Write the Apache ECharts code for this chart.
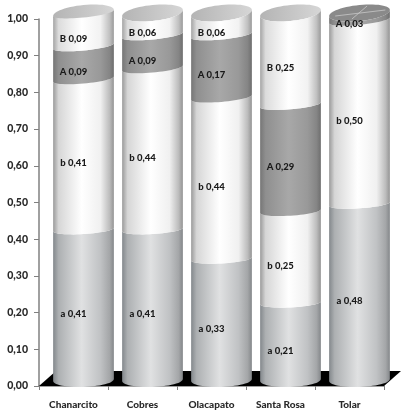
<!DOCTYPE html>
<html><head><meta charset="utf-8">
<style>html,body{margin:0;padding:0;background:#fff}#c{width:401px;height:416px;filter:blur(0.45px)}</style>
<script src="https://cdn.jsdelivr.net/npm/echarts@6/dist/echarts.min.js"></script>
</head><body><div id="c"></div>
<script>
const categories = ['Chanarcito','Cobres','Olacapato','Santa Rosa','Tolar'];
const aValues = [0.41,0.41,0.33,0.21,0.48];
const bValues = [0.41,0.44,0.44,0.25,0.50];
const AValues = [0.09,0.09,0.17,0.29,0.03];
const BValues = [0.09,0.06,0.06,0.25,0];
const stopsAt = [0,0.09,0.47,0.78,0.93,1];
const layers = [
  {name:'a',values:aValues,stops:['#83888c','#adb0b2','#e0e1e2','#c0c2c4','#a4a6a8','#84878a']},
  {name:'b',values:bValues,stops:['#9a9a9a','#d6d6d6','#ffffff','#f0f0f0','#bcbcbc','#949494']},
  {name:'A',values:AValues,stops:['#767676','#8f8f8f','#a8a8a8','#999999','#858585','#6e6e6e']},
  {name:'B',values:BValues,stops:['#a4a4a4','#dcdcdc','#ffffff','#f2f2f2','#c0c0c0','#9a9a9a']}
];
const fmt = v => v.toFixed(2).replace('.',',');
const sx = 10, sy = 6;
const tilt = v => 1 + 2*v;
const ry = v => v<=0 ? 7 : (v>=1 ? 8 : 4.5);
function base(layer,i){let s=0;for(let k=0;k<layer;k++)s+=layers[k].values[i];return s;}
function arc(cx,cy,rx,r,tl,from,to,n){const p=[];for(let j=0;j<=n;j++){const t=from+(to-from)*j/n;
  p.push([cx+rx*Math.cos(t),cy+r*Math.sin(t)-tl*Math.cos(t)]);}return p;}
function grad(stops){return new echarts.graphic.LinearGradient(0,0,1,0,
  stops.map((c,i)=>({offset:stopsAt[i],color:c})));}
function segment(layer){return function(params,api){
  const i=api.value(0), val=api.value(1); if(!val) return {type:'group',children:[]};
  const b0=base(layer,i), b1=Math.min(1,b0+val);
  const band=api.size([1,0])[0], rx=band*0.44;
  const p0=api.coord([i,b0]), p1=api.coord([i,b1]);
  const cx=p0[0]+sx;
  const lo=arc(cx,p0[1]-sy,rx,ry(b0),tilt(b0),Math.PI,0,28);
  const up=arc(cx,p1[1]-sy,rx,ry(b1),tilt(b1),0,Math.PI,28);
  const pm=api.coord([i,(b0+val/2)]);
  return {type:'group',children:[
    {type:'polygon',shape:{points:lo.concat(up)},style:{fill:grad(layers[layer].stops)}},
    {type:'text',z2:50,style:{text:layers[layer].name+' '+fmt(val),x:p0[0],y:pm[1]+3,
      align:'center',verticalAlign:'middle',fill:'#1a1a1a',font:'900 9.5px Lato,sans-serif'}}
  ]};
};}
const series=[{
  type:'custom',silent:true,data:[0],clip:false,z:1,
  renderItem(params,api){
    const n=categories.length,p0=api.coord([0,0]),p1=api.coord([n-1,0]),half=api.size([1,0])[0]/2;
    return {type:'polygon',shape:{points:[[p0[0]-half,p0[1]],[p1[0]+half,p1[1]],[p1[0]+half+17,p1[1]-15],[p0[0]-half+17,p0[1]-15]]},style:{fill:'#000'}};
  }
}];
series.push({type:'custom',silent:true,clip:false,z:2,data:categories.map((c,i)=>[i,1]),encode:{x:0,y:1},
  renderItem(params,api){
    const i=api.value(0),p=api.coord([i,1]),rx=api.size([1,0])[0]*0.44,cx=p[0]+sx,cy=p[1]-sy;
    const top=arc(cx,cy,rx,ry(1),tilt(1),0,2*Math.PI,56);
    const dark=i===categories.length-1;
    const ch=[{type:'polygon',shape:{points:top},style:{fill:dark?'#8a8a8a':new echarts.graphic.LinearGradient(0,0,1,0,[{offset:0,color:'#b4b4b4'},{offset:1,color:'#d6d6d6'}])}}];
    if(dark){const w={stroke:'#c8c8c8',lineWidth:0.8,fill:null};
      ch.push({type:'line',shape:{x1:cx-rx*0.8,y1:cy+3,x2:cx+rx*0.85,y2:cy-3},style:w});
      ch.push({type:'line',shape:{x1:cx-rx*0.25,y1:cy+6,x2:cx+rx*0.25,y2:cy-7},style:w});
    }
    return {type:'group',children:ch};
  }});
layers.forEach((l,k)=>series.push({name:l.name,type:'custom',silent:true,clip:false,z:3+k,
  data:categories.map((c,i)=>[i,l.values[i]]),encode:{x:0,y:1},renderItem:segment(k)}));
const chart=echarts.init(document.getElementById('c'),null,{renderer:'canvas'});
chart.setOption({animation:false,
  grid:{left:39,right:17,top:19,bottom:30,containLabel:false},
  xAxis:{type:'category',data:categories,
    axisLine:{lineStyle:{color:'#808080',width:1.5}},
    axisTick:{show:true,alignWithLabel:false,length:4,lineStyle:{color:'#808080'}},
    axisLabel:{interval:0,margin:14,color:'#2a2a2a',fontFamily:'Lato',fontWeight:900,fontSize:10}},
  yAxis:{type:'value',min:0,max:1,interval:0.1,splitLine:{show:false},
    axisLine:{show:true,lineStyle:{color:'#808080',width:1.5}},
    axisTick:{show:true,length:5,lineStyle:{color:'#808080'}},
    axisLabel:{margin:11,color:'#2a2a2a',fontFamily:'Lato',fontWeight:900,fontSize:10.5,formatter:fmt}},
  series});
</script></body></html>
